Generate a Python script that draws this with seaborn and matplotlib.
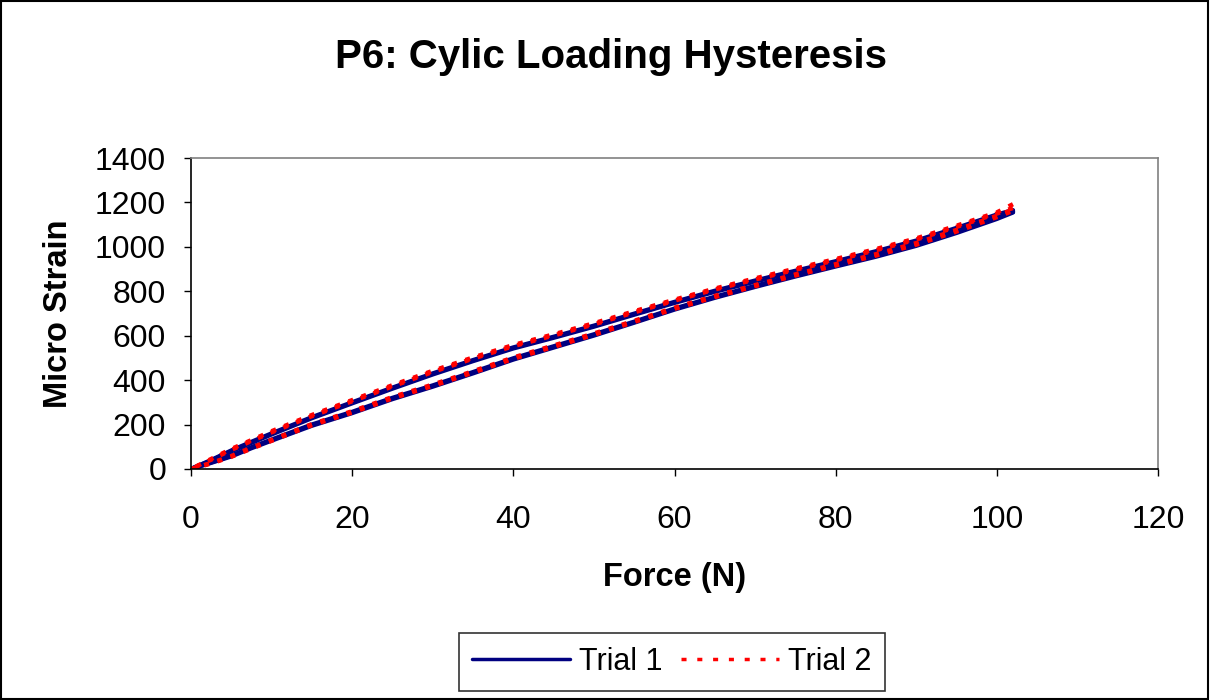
import pandas as pd
import matplotlib
matplotlib.use("Agg")
import matplotlib.pyplot as plt
import matplotlib.patches as patches
import seaborn as sns

# force grid (N) used for every branch of the loops
force = [0, 2.5, 5, 7.5, 10, 15, 20, 25, 30, 35, 40, 45, 50,
         55, 60, 65, 70, 75, 80, 85, 90, 95, 100, 102]

# Trial 1, two cycles (loading = lower branch, unloading = upper branch)
t1_load_a = [0, 30, 60, 98, 132, 200, 257, 320, 376, 436, 498, 552, 606,
             663, 722, 775, 824, 872, 918, 963, 1012, 1070, 1132, 1158]
t1_unload_a = [0, 40, 83, 122, 160, 233, 300, 366, 430, 490, 547, 595, 645,
               699, 752, 802, 848, 892, 935, 980, 1028, 1085, 1145, 1165]
t1_load_b = [0, 28, 57, 94, 128, 195, 252, 315, 371, 431, 493, 547, 601,
             659, 718, 771, 820, 867, 912, 956, 1005, 1063, 1126, 1155]
t1_unload_b = [0, 38, 80, 118, 156, 229, 296, 362, 426, 486, 543, 591, 641,
               695, 748, 798, 844, 888, 930, 974, 1021, 1078, 1139, 1158]

# Trial 2, two cycles
t2_load_a = [0, 27, 58, 96, 131, 202, 260, 324, 380, 440, 502, 556, 610,
             667, 726, 779, 828, 876, 922, 967, 1017, 1076, 1140, 1168]
t2_unload_a = [0, 45, 90, 130, 170, 243, 310, 377, 442, 502, 558, 606, 656,
               710, 762, 812, 858, 902, 945, 990, 1038, 1095, 1155, 1192]
t2_load_b = [0, 25, 55, 92, 127, 197, 254, 318, 374, 434, 496, 550, 604,
             662, 721, 774, 823, 871, 916, 961, 1010, 1069, 1134, 1162]
t2_unload_b = [0, 42, 86, 126, 165, 238, 305, 372, 437, 497, 553, 601, 651,
               705, 758, 808, 853, 897, 940, 985, 1033, 1090, 1150, 1175]

branches = [
    ("Trial 1", "1a-up", force, t1_load_a),
    ("Trial 1", "1a-down", force[::-1], t1_unload_a[::-1]),
    ("Trial 1", "1b-up", force, t1_load_b),
    ("Trial 1", "1b-down", force[::-1], t1_unload_b[::-1]),
    ("Trial 2", "2a-up", force, t2_load_a),
    ("Trial 2", "2a-down", force[::-1], t2_unload_a[::-1]),
    ("Trial 2", "2b-up", force, t2_load_b),
    ("Trial 2", "2b-down", force[::-1], t2_unload_b[::-1]),
]

rows = []
for trial, seg, f, s in branches:
    for i, (fx, sy) in enumerate(zip(f, s)):
        rows.append({"trial": trial, "seg": seg, "order": i, "force": fx, "strain": sy})
df = pd.DataFrame(rows)

sns.set_style("white")
plt.rcParams["font.family"] = ["Liberation Sans", "DejaVu Sans"]
for key in ["text.color", "axes.labelcolor", "xtick.color", "ytick.color"]:
    plt.rcParams[key] = "black"

fig = plt.figure(figsize=(12.1, 7.0), dpi=100)
ax = fig.add_axes([191 / 1210, (700 - 469) / 700, (1158 - 191) / 1210, (469 - 158) / 700])

palette = {"Trial 1": "#000080", "Trial 2": "#FF0000"}
sns.lineplot(data=df, x="force", y="strain", hue="trial", style="trial",
             units="seg", estimator=None, sort=False, palette=palette,
             dashes={"Trial 1": "", "Trial 2": (1.1, 2.0)},
             linewidth=3.2, ax=ax, legend=False)

ax.set_xlim(0, 120)
ax.set_ylim(0, 1400)
ax.set_xticks(range(0, 121, 20))
ax.set_yticks(range(0, 1401, 200))
ax.tick_params(axis="both", which="major", labelsize=23, direction="out",
               length=5, width=1, color="black", bottom=True, left=True)
ax.tick_params(axis="y", pad=13)
ax.tick_params(axis="x", pad=21)
for side in ["left", "bottom"]:
    ax.spines[side].set_color("black")
    ax.spines[side].set_linewidth(1.2)
for side in ["top", "right"]:
    ax.spines[side].set_color("#808080")
    ax.spines[side].set_linewidth(1.2)

ax.set_xlabel("Force (N)", fontsize=23.5, fontweight="bold")
ax.set_ylabel("Micro Strain", fontsize=23.5, fontweight="bold")
ax.xaxis.set_label_coords(0.5, -0.3)
ax.yaxis.set_label_coords(-0.121, 0.5)

fig.text(0.505, 1 - 57 / 700, "P6: Cylic Loading Hysteresis", fontsize=29,
         fontweight="bold", ha="center", va="center")

handles = [plt.Line2D([], [], color="#000080", linewidth=2.5),
           plt.Line2D([], [], color="#FF0000", linewidth=2.5, dashes=(1.45, 3.1))]
leg = fig.legend(handles, ["Trial 1", "Trial 2"], loc="center",
                 bbox_to_anchor=(672 / 1210, 1 - 662 / 700), ncol=2,
                 fontsize=22, handlelength=3.2, handletextpad=0.3,
                 columnspacing=0.6, frameon=True, fancybox=False,
                 borderpad=0.45)
leg.get_frame().set_edgecolor("black")
leg.get_frame().set_linewidth(1.2)

fig.patches.append(patches.Rectangle((0.001, 0.001), 0.997, 0.997,
                                     transform=fig.transFigure, fill=False,
                                     edgecolor="black", linewidth=1.5))

fig.savefig("out.png", dpi=100, facecolor="white")
